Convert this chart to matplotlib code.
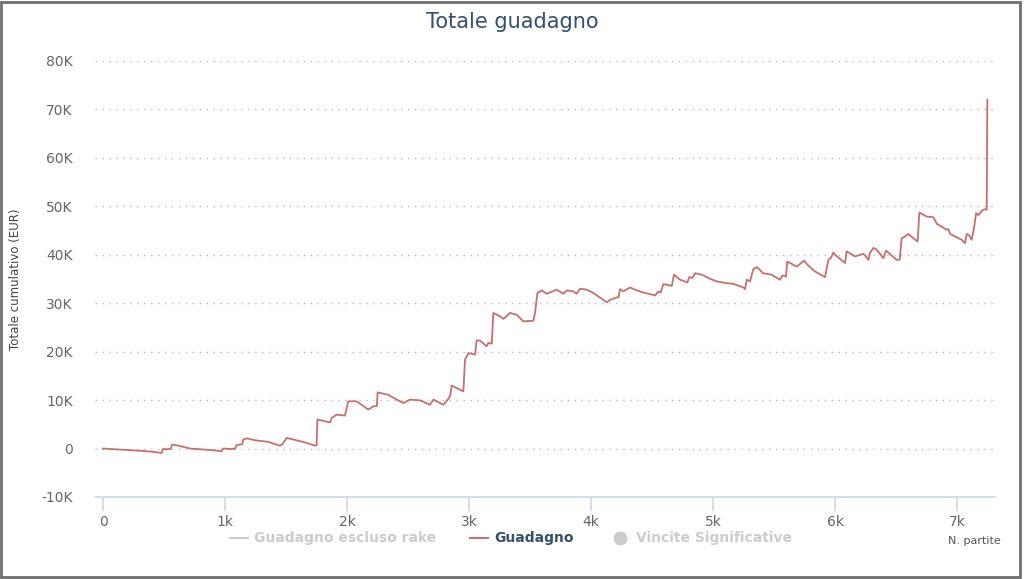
import matplotlib
matplotlib.use('Agg')
import matplotlib.pyplot as plt
from matplotlib.patches import Rectangle
from matplotlib.lines import Line2D
from matplotlib.ticker import FuncFormatter

# cumulative gain (games played, EUR)
games = [0, 100, 200, 300, 400, 480, 490, 520, 555, 565,
         600, 650, 712, 800, 900, 972, 985, 1050, 1082, 1095,
         1140, 1150, 1177, 1250, 1350, 1450, 1470, 1505, 1560, 1650,
         1738, 1750, 1757, 1860, 1874, 1915, 1983, 2010, 2078, 2174,
         2215, 2245, 2250, 2338, 2400, 2461, 2516, 2598, 2680, 2708,
         2790, 2830, 2844, 2858, 2953, 2967, 2994, 3049, 3062, 3090,
         3144, 3158, 3186, 3199, 3254, 3282, 3336, 3391, 3445, 3527,
         3541, 3560, 3596, 3636, 3718, 3773, 3801, 3855, 3882, 3910,
         3964, 4019, 4060, 4129, 4156, 4211, 4225, 4238, 4265, 4320,
         4374, 4429, 4525, 4552, 4570, 4593, 4662, 4680, 4730, 4790,
         4805, 4830, 4852, 4907, 4962, 5030, 5112, 5166, 5248, 5262,
         5276, 5303, 5330, 5361, 5410, 5479, 5549, 5570, 5598, 5608,
         5686, 5746, 5773, 5836, 5918, 5945, 5965, 5986, 6000, 6082,
         6095, 6164, 6205, 6233, 6274, 6287, 6314, 6340, 6396, 6418,
         6505, 6530, 6546, 6573, 6600, 6642, 6677, 6691, 6751, 6806,
         6834, 6916, 6930, 6943, 7038, 7065, 7079, 7100, 7120, 7139,
         7156, 7175, 7203, 7229, 7243, 7248]
gain = [0, -150, -300, -450, -650, -900, -100, -150, -50, 800,
        700, 400, 0, -150, -350, -550, 0, -100, 0, 700,
        900, 1850, 2100, 1700, 1400, 600, 900, 2200, 1850, 1300,
        600, 700, 6000, 5400, 6300, 7000, 6800, 9750, 9750, 8050,
        8700, 8800, 11600, 11100, 10200, 9400, 10100, 9950, 9050, 10100,
        9050, 10250, 10800, 13000, 11800, 18350, 19700, 19400, 22300, 22300,
        21100, 21800, 21650, 28000, 27300, 26750, 28000, 27600, 26250, 26400,
        28000, 32100, 32650, 31950, 32800, 31950, 32650, 32450, 31950, 33000,
        32800, 32100, 31400, 30200, 30700, 31200, 31200, 32900, 32450, 33250,
        32650, 32200, 31600, 32450, 32200, 33950, 33600, 35900, 34850, 34300,
        35400, 35200, 36200, 35900, 35200, 34500, 34150, 34000, 33250, 32900,
        34850, 34500, 37050, 37450, 36200, 35900, 34850, 35750, 35500, 38600,
        37550, 38800, 37950, 36550, 35400, 38950, 39300, 40450, 40000, 38300,
        40700, 39650, 40000, 40200, 38950, 40450, 41400, 41100, 39300, 40850,
        38950, 39000, 43400, 43750, 44300, 43400, 42750, 48700, 47900, 47750,
        46400, 45150, 45300, 44300, 43100, 42400, 44300, 44000, 43100, 45500,
        48600, 48200, 49100, 49400, 49300, 72000]

x_ticks = [0, 1000, 2000, 3000, 4000, 5000, 6000, 7000]
y_ticks = [-10000, 0, 10000, 20000, 30000, 40000, 50000, 60000, 70000, 80000]
legend_names = ['Guadagno escluso rake', 'Guadagno', 'Vincite Significative']

line_color = '#c5706d'
title_color = '#34506e'
axis_color = '#ccd6eb'

fig = plt.figure(figsize=(10.24, 5.79), dpi=100)
ax = fig.add_axes([95 / 1024, 82 / 579, 900 / 1024, 436 / 579])

ax.plot(games, gain, color=line_color, linewidth=1.3, zorder=3)

ax.set_xlim(-66, 7311)
ax.set_ylim(-10000, 80000)
ax.set_xticks(x_ticks)
ax.set_yticks(y_ticks)
ax.xaxis.set_major_formatter(FuncFormatter(lambda v, p: '0' if v == 0 else '{:.0f}k'.format(v / 1000)))
ax.yaxis.set_major_formatter(FuncFormatter(lambda v, p: '0' if v == 0 else '{:.0f}K'.format(v / 1000)))

for side in ['top', 'right', 'left']:
    ax.spines[side].set_visible(False)
ax.spines['bottom'].set_color(axis_color)
ax.spines['bottom'].set_linewidth(1.2)

ax.grid(axis='y', linestyle=(0, (1, 4)), color='#bbbbbb', linewidth=1)
ax.tick_params(axis='y', length=0, pad=16, labelsize=10, labelcolor='#666666')
ax.tick_params(axis='x', length=10, width=1.2, color=axis_color, pad=3,
               labelsize=10, labelcolor='#666666')
ax.set_ylabel('Totale cumulativo (EUR)', fontsize=8.5, color='#444444', labelpad=14)

fig.text(0.5, 1 - 22 / 579, 'Totale guadagno', ha='center', va='center',
         fontsize=15, color=title_color)
fig.text(0.977, 1 - 541 / 579, 'N. partite', ha='right', va='center', fontsize=8, color='#555555')

# legend: first and third series are hidden (greyed out)
leg_y = 1 - 538 / 579
fig.add_artist(Line2D([230 / 1024, 248 / 1024], [leg_y, leg_y], color='#cccccc', linewidth=1.5))
fig.text(254 / 1024, leg_y, legend_names[0], ha='left', va='center',
         fontsize=10, fontweight='bold', color='#cccccc')
fig.add_artist(Line2D([470 / 1024, 488 / 1024], [leg_y, leg_y], color=line_color, linewidth=1.5))
fig.text(494 / 1024, leg_y, legend_names[1], ha='left', va='center',
         fontsize=10, fontweight='bold', color=title_color)
fig.add_artist(Line2D([620 / 1024], [leg_y], marker='o', markersize=9, color='#cccccc', linestyle='none'))
fig.text(636 / 1024, leg_y, legend_names[2], ha='left', va='center',
         fontsize=10, fontweight='bold', color='#cccccc')

fig.add_artist(Rectangle((1 / 1024, 2 / 579), 1019 / 1024, 575 / 579, transform=fig.transFigure,
                         fill=False, edgecolor='#6f6f6f', linewidth=2))

fig.savefig('out.png', dpi=100, facecolor='white')
